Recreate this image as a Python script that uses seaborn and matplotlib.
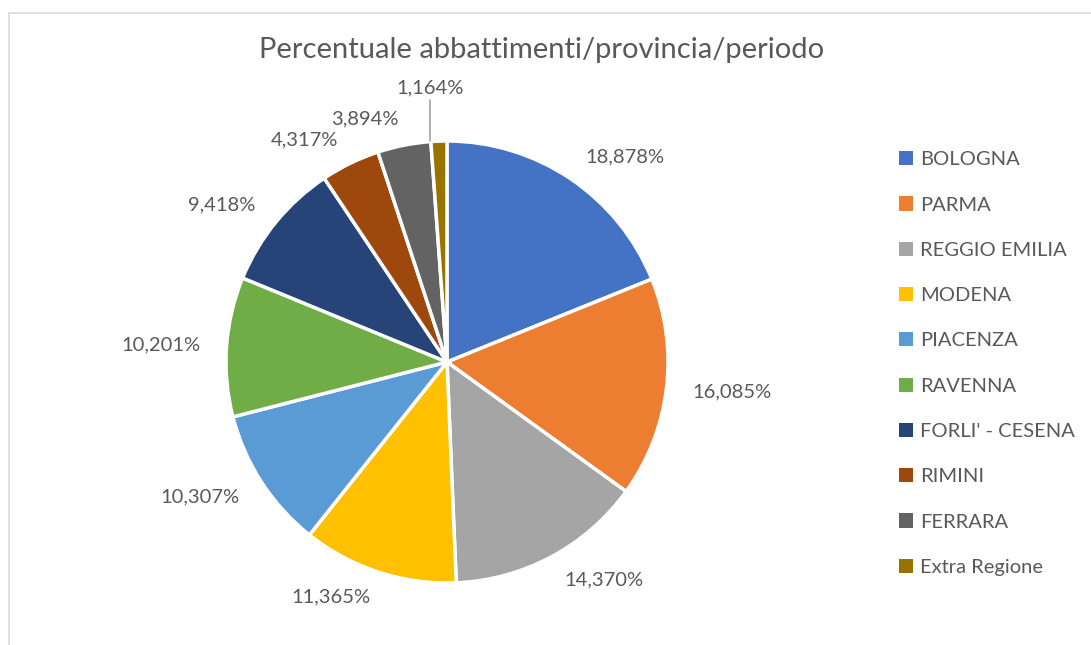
import numpy as np
import matplotlib.pyplot as plt
import seaborn as sns
from matplotlib.patches import Rectangle

# Data
province = ['BOLOGNA', 'PARMA', 'REGGIO EMILIA', 'MODENA', 'PIACENZA',
            'RAVENNA', "FORLI' - CESENA", 'RIMINI', 'FERRARA', 'Extra Regione']
percent = [18.878, 16.085, 14.370, 11.365, 10.307,
           10.201, 9.418, 4.317, 3.894, 1.164]
colors = ['#4472C4', '#ED7D31', '#A5A5A5', '#FFC000', '#5B9BD5',
          '#70AD47', '#264478', '#9E480E', '#636363', '#997300']

sns.set_style('white')
plt.rcParams['font.family'] = ['Lato', 'DejaVu Sans']
text_color = '#595959'

fig = plt.figure(figsize=(10.91, 6.45), dpi=100)

# light chart frame
fig.patches.append(Rectangle((8.5 / 1091, -0.1), 1.2, 1 - 12.5 / 645 + 0.1,
                             transform=fig.transFigure, fill=False,
                             edgecolor='#D9D9D9', linewidth=1.2))

# pie axes: centre (447, 362) px, radius 221 px
ax = fig.add_axes([(447 - 221) / 1091, (645 - 362 - 221) / 645, 442 / 1091, 442 / 645])

pct_labels = [f'{p:.3f}%'.replace('.', ',') for p in percent]
wedges, texts = ax.pie(percent, labels=pct_labels, colors=sns.color_palette(colors),
                       startangle=90, counterclock=False, radius=1,
                       labeldistance=1.12,
                       wedgeprops=dict(edgecolor='white', linewidth=2.5),
                       textprops=dict(color=text_color, fontsize=14.5))
ax.set_xlim(-1, 1)
ax.set_ylim(-1, 1)
ax.set_aspect('equal')

# small slice: label further out with a leader line
w = wedges[-1]
mid = np.deg2rad((w.theta1 + w.theta2) / 2)
lx = 1.24 * np.cos(mid) - 0.03
ly = 1.24 * np.sin(mid)
texts[-1].set_position((lx, ly))
texts[-1].set_ha('center')
ax.plot([lx, lx], [0.998, 1.185], color='#A6A6A6', linewidth=1.2, clip_on=False)

fig.text(542 / 1091, 1 - 50 / 645, 'Percentuale abbattimenti/provincia/periodo',
         ha='center', va='center', fontsize=21, color=text_color)

leg = fig.legend(wedges, province, loc='upper left',
                 bbox_to_anchor=(881 / 1091, 1 - 133 / 645),
                 frameon=False, fontsize=14.5, labelspacing=1.4,
                 handlelength=0.7, handleheight=0.7, handletextpad=0.35)
for t in leg.get_texts():
    t.set_color(text_color)
for h in leg.legend_handles:
    h.set_edgecolor('none')

fig.savefig('out.png', dpi=100)
